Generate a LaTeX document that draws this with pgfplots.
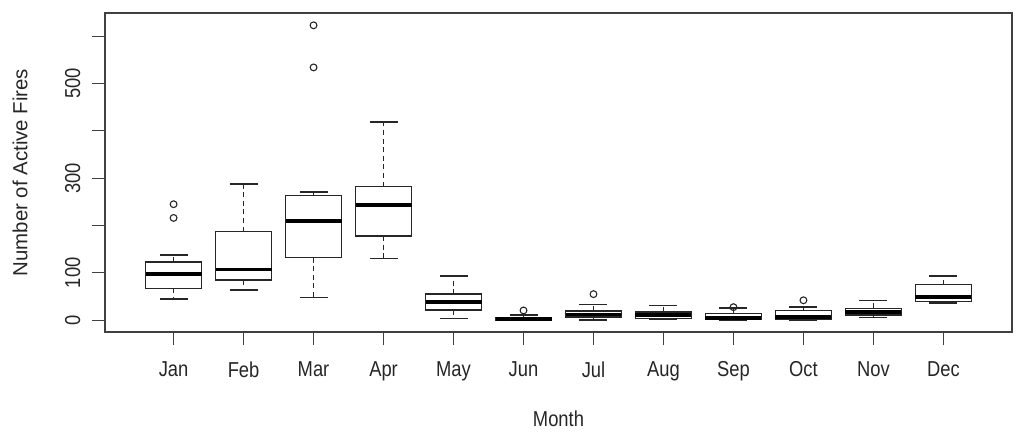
\documentclass[border=0pt]{standalone}
\usepackage{fontspec}
\setmainfont{Liberation Sans}[FakeStretch=0.85]
\newfontfamily\ylabfont{Liberation Sans}
\usepackage{pgfplots}
\pgfplotsset{compat=1.18}
\usepgfplotslibrary{statistics}

\pgfplotsset{
  rbox/.style={
    black!85, line width=0.75pt, mark=o, mark size=1.7pt,
    mark options={solid, line width=0.55pt},
    boxplot/draw direction=y,
    boxplot/box extend=0.8,
    boxplot/whisker extend=0.4,
    boxplot/every median/.style={line width=1.9pt, black},
    boxplot/draw/lower whisker/.code={%
      \draw[dash pattern=on 2.5pt off 1.8pt]
        (boxplot cs:\pgfplotsboxplotvalue{lower quartile})
        -- (boxplot cs:\pgfplotsboxplotvalue{lower whisker});
      \draw (boxplot whisker cs:\pgfplotsboxplotvalue{lower whisker},0)
        -- (boxplot whisker cs:\pgfplotsboxplotvalue{lower whisker},1);
    },
    boxplot/draw/upper whisker/.code={%
      \draw[dash pattern=on 2.5pt off 1.8pt]
        (boxplot cs:\pgfplotsboxplotvalue{upper quartile})
        -- (boxplot cs:\pgfplotsboxplotvalue{upper whisker});
      \draw (boxplot whisker cs:\pgfplotsboxplotvalue{upper whisker},0)
        -- (boxplot whisker cs:\pgfplotsboxplotvalue{upper whisker},1);
    },
  },
}

\begin{document}
\fontsize{10.8}{13}\selectfont
\begin{tikzpicture}
\begin{axis}[
    scale only axis,
    width=453.5pt, height=159.5pt,
    xmin=0.02, xmax=12.98,
    ymin=-25, ymax=649,
    xtick={1,...,12},
    xticklabels={Jan,Feb,Mar,Apr,May,Jun,Jul,Aug,Sep,Oct,Nov,Dec},
    ytick={0,100,...,600},
    yticklabels={0,100,,300,,500,},
    tick pos=left,
    tick align=outside,
    major tick length=6.5pt,
    axis line style={black!75, line width=0.75pt},
    tick style={black!75, line width=0.6pt},
    every tick label/.append style={text=black!85},
    /pgf/number format/assume math mode=true,
    yticklabel style={rotate=90, anchor=south, yshift=2pt},
    xticklabel style={yshift=-4.5pt},
    xlabel={Month},
    ylabel={\ylabfont\fontsize{10.2}{12}\selectfont Number of Active Fires},
    xlabel style={at={(axis description cs:0.5,-0.2727)}, anchor=center, text=black!85},
    ylabel style={at={(axis description cs:-0.0937,0.5)}, anchor=center, text=black!85},
  ]
  % Jan
  \addplot[rbox, boxplot prepared={draw position=1, lower whisker=45, lower quartile=67, median=97, upper quartile=123, upper whisker=137.5}]
    table[row sep=\\, y index=0] {data\\ 245\\ 216\\};
  % Feb
  \addplot[rbox, boxplot prepared={draw position=2, lower whisker=64, lower quartile=85, median=107, upper quartile=187, upper whisker=288}]
    coordinates {};
  % Mar
  \addplot[rbox, boxplot prepared={draw position=3, lower whisker=48, lower quartile=132, median=209, upper quartile=263, upper whisker=271}]
    table[row sep=\\, y index=0] {data\\ 623\\ 534\\};
  % Apr
  \addplot[rbox, boxplot prepared={draw position=4, lower whisker=130, lower quartile=178, median=244, upper quartile=282, upper whisker=419}]
    coordinates {};
  % May
  \addplot[rbox, boxplot prepared={draw position=5, lower whisker=3.6, lower quartile=22, median=39, upper quartile=55, upper whisker=93}]
    coordinates {};
  % Jun
  \addplot[rbox, boxplot prepared={draw position=6, lower whisker=0, lower quartile=0.5, median=2, upper quartile=6, upper whisker=11}]
    table[row sep=\\, y index=0] {data\\ 20.5\\};
  % Jul
  \addplot[rbox, boxplot prepared={draw position=7, lower whisker=0.7, lower quartile=6.3, median=12, upper quartile=19.7, upper whisker=33}]
    table[row sep=\\, y index=0] {data\\ 55\\};
  % Aug
  \addplot[rbox, boxplot prepared={draw position=8, lower whisker=2, lower quartile=4, median=11, upper quartile=17, upper whisker=31}]
    coordinates {};
  % Sep
  \addplot[rbox, boxplot prepared={draw position=9, lower whisker=0, lower quartile=2, median=5, upper quartile=14, upper whisker=25.5}]
    table[row sep=\\, y index=0] {data\\ 27.5\\};
  % Oct
  \addplot[rbox, boxplot prepared={draw position=10, lower whisker=0, lower quartile=2.8, median=7, upper quartile=20.5, upper whisker=27.5}]
    table[row sep=\\, y index=0] {data\\ 42\\};
  % Nov
  \addplot[rbox, boxplot prepared={draw position=11, lower whisker=5.7, lower quartile=11, median=18, upper quartile=25, upper whisker=41.6}]
    coordinates {};
  % Dec
  \addplot[rbox, boxplot prepared={draw position=12, lower whisker=36, lower quartile=39, median=49, upper quartile=75, upper whisker=93}]
    coordinates {};
\end{axis}
\pgfresetboundingbox
\path[use as bounding box] (current axis.south west) ++(-52.5pt,-51pt) rectangle ++(512pt,217pt);
\end{tikzpicture}
\end{document}
